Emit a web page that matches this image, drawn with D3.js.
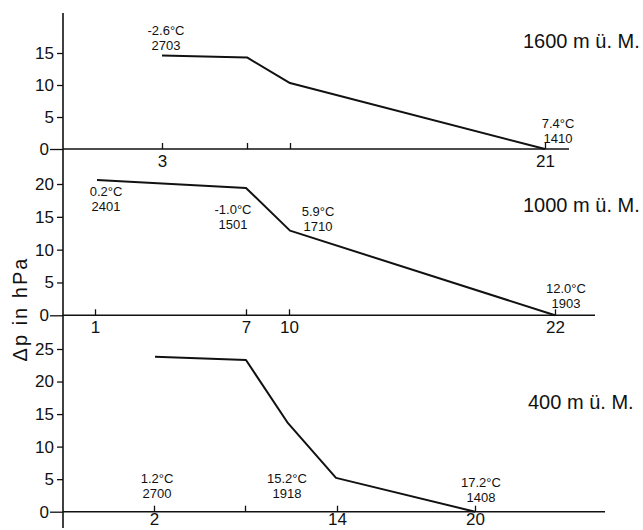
<!DOCTYPE html>
<html>
<head>
<meta charset="utf-8">
<script src="https://cdn.jsdelivr.net/npm/d3@7"></script>
<style>
  body { margin: 0; background: #fff; }
  svg { font-family: "Liberation Sans", Arial, sans-serif; }
  .axis text { font-size: 17px; fill: #111; }
  .axis line { stroke: #111; stroke-width: 1.3; }
  .note { font-size: 13px; fill: #111; }
  .title { font-size: 20px; fill: #111; }
</style>
</head>
<body>
<div class="chart"></div>
<script>
// Stationen entlang des Profils (km), Beschriftung je Höhenstufe
var names = ['1600 m ü. M.', '1000 m ü. M.', '400 m ü. M.'];

var tickPos1 = [9.9, 18.4, 22.7, 48.2],
    tickLab1 = ['3', '', '', '21'];
var tickPos2 = [3.2, 18.3, 22.6, 49.2],
    tickLab2 = ['1', '7', '10', '22'];
var tickPos3 = [9.1, 18.2, 27.4, 41.2],
    tickLab3 = ['2', '', '14', '20'];

// Druckdifferenz Δp (hPa) an den Knickpunkten
var dist1 = [9.9, 18.4, 22.7, 48.2],
    dp1   = [14.6, 14.3, 10.3, 0];
var dist2 = [3.4, 18.3, 22.7, 49.2],
    dp2   = [20.6, 19.4, 12.9, 0];
var dist3 = [9.2, 18.3, 22.5, 27.3, 41.2],
    dp3   = [23.8, 23.3, 13.6, 5.2, 0];

// Temperatur / Uhrzeit an den Stationen (Lage in km und hPa)
var notes1 = [
  { d: 10.3, v: 17.8, t: '-2.6°C', z: '2703' },
  { d: 49.5, v: 3.3, t: '7.4°C', z: '1410' }
];
var notes2 = [
  { d: 4.3, v: 18.1, t: '0.2°C', z: '2401' },
  { d: 17.0, v: 15.5, t: '-1.0°C', z: '1501' },
  { d: 25.5, v: 15.05, t: '5.9°C', z: '1710' },
  { d: 50.3, v: 3.45, t: '12.0°C', z: '1903' }
];
var notes3 = [
  { d: 9.4, v: 4.46, t: '1.2°C', z: '2700' },
  { d: 22.4, v: 4.46, t: '15.2°C', z: '1918' },
  { d: 41.8, v: 3.85, t: '17.2°C', z: '1408' }
];

var yTicks1 = [0, 5, 10, 15],
    yTicks2 = [0, 5, 10, 15, 20],
    yTicks3 = [0, 5, 10, 15, 20, 25];

var svg_width = 643,
    svg_height = 530,
    svg = d3.select('.chart').append('svg').attr('width', svg_width).attr('height', svg_height);

var x = d3.scaleLinear().domain([0, 55]).range([63, 613]);

var panels = [
  { name: names[0], dist: dist1, dp: dp1, tp: tickPos1, tl: tickLab1, yt: yTicks1, notes: notes1,
    y: d3.scaleLinear().domain([0, 15]).range([149, 53]), end: 50.6, tx: 523, pad: 5 },
  { name: names[1], dist: dist2, dp: dp2, tp: tickPos2, tl: tickLab2, yt: yTicks2, notes: notes2,
    y: d3.scaleLinear().domain([0, 20]).range([315.3, 184]), end: 53.2, tx: 523, pad: 5 },
  { name: names[2], dist: dist3, dp: dp3, tp: tickPos3, tl: tickLab3, yt: yTicks3, notes: notes3,
    y: d3.scaleLinear().domain([0, 25]).range([511.7, 349]), end: 54.2, tx: 528, pad: 1 }
];

// durchgehende Ordinate
svg.append('line')
  .attr('x1', x(0)).attr('x2', x(0))
  .attr('y1', panels[0].y(21.25)).attr('y2', panels[2].y(-2.5))
  .attr('stroke', '#111').attr('stroke-width', 1.6);

panels.forEach(function(p) {
  var g = svg.append('g');

  // Abszisse
  g.append('line')
    .attr('x1', x(0)).attr('x2', x(p.end))
    .attr('y1', p.y(0)).attr('y2', p.y(0))
    .attr('stroke', '#111').attr('stroke-width', 1.6);

  var xa = g.append('g').attr('class', 'axis')
    .attr('transform', 'translate(0,' + p.y(0) + ')')
    .call(d3.axisBottom(x).tickValues(p.tp)
      .tickFormat(function(d, i) { return p.tl[i]; })
      .tickSizeInner(-6).tickSizeOuter(0).tickPadding(p.pad));
  xa.select('.domain').remove();
  xa.selectAll('text').attr('dy', '0.75em');

  var ya = g.append('g').attr('class', 'axis')
    .attr('transform', 'translate(' + x(0) + ',0)')
    .call(d3.axisLeft(p.y).tickValues(p.yt).tickSizeInner(6).tickPadding(3));
  ya.select('.domain').remove();
  ya.selectAll('.tick').filter(function(d) { return d === 0; }).select('line').attr('x2', -13);
  ya.selectAll('.tick').filter(function(d) { return d === 0; }).select('text').attr('x', -14);

  var pts = p.dist.map(function(d, i) { return [d, p.dp[i]]; });
  g.append('path')
    .datum(pts)
    .attr('fill', 'none')
    .attr('stroke', '#111')
    .attr('stroke-width', 2)
    .attr('stroke-linejoin', 'round')
    .attr('d', d3.line().x(function(d) { return x(d[0]); }).y(function(d) { return p.y(d[1]); }));

  var n = g.selectAll('.note').data(p.notes).enter().append('text')
    .attr('class', 'note')
    .attr('text-anchor', 'middle')
    .attr('x', function(d) { return x(d.d); })
    .attr('y', function(d) { return p.y(d.v); });
  n.append('tspan').text(function(d) { return d.t; });
  n.append('tspan').attr('x', function(d) { return x(d.d); }).attr('dy', 15).text(function(d) { return d.z; });

  g.append('text').attr('class', 'title')
    .attr('x', p.tx).attr('y', p.y(15.8))
    .text(p.name);
});

svg.append('text')
  .attr('transform', 'translate(27,' + 309 + ') rotate(-90)')
  .attr('text-anchor', 'middle')
  .style('font-size', '20px')
  .style('letter-spacing', '2px')
  .attr('fill', '#111')
  .text('Δp in hPa');
</script>
</body>
</html>
